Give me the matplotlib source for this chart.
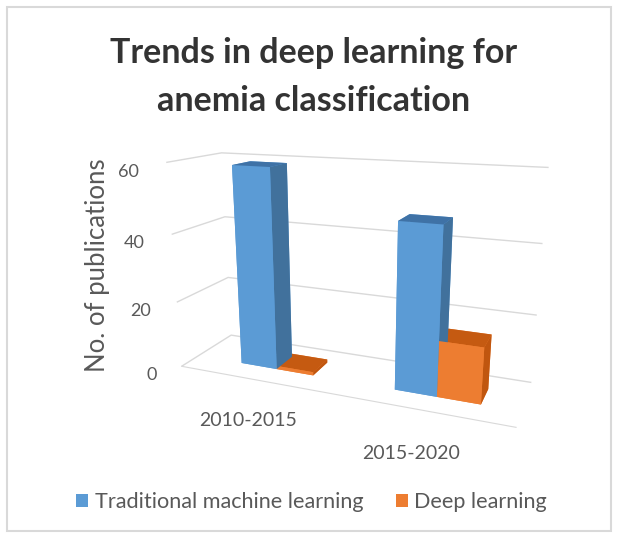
import numpy as np
import matplotlib.pyplot as plt
from matplotlib.patches import Rectangle, Patch

categories = ["2010-2015", "2015-2020"]
series = ["Traditional machine learning", "Deep learning"]
traditional = [59, 47]
deep = [1, 16]
zticks = [0, 20, 40, 60]

blue_faces = ["#5B9BD5", "#3F72A6", "#5B9BD5", "#5B9BD5", "#5B9BD5", "#41719C"]
orange_faces = ["#ED7D31", "#C55A11", "#ED7D31", "#ED7D31", "#ED7D31", "#C0560F"]
text_col = "#595959"
grid_col = "#D9D9D9"

plt.rcParams['font.family'] = ['Lato', 'DejaVu Sans']

fig = plt.figure(figsize=(6.18, 5.38), dpi=100)
ax = fig.add_axes([0.105, 0.095, 0.91, 0.77], projection='3d')

# bars: blue on the left of each category, orange next to it
w = 0.245
xs, ys, zs, dxs, dys, dzs, cols = [], [], [], [], [], [], []
for i in range(len(categories)):
    c = i + 0.5
    for off, vals, faces in [(-w, traditional, blue_faces), (0, deep, orange_faces)]:
        xs.append(c + off); ys.append(0.32); zs.append(0)
        dxs.append(w); dys.append(0.36); dzs.append(vals[i])
        cols += faces
ax.bar3d(xs, ys, zs, dxs, dys, dzs, color=cols, shade=False)

ax.set_xlim(-0.06, 1.96)
ax.set_ylim(0, 1)
ax.set_zlim(0, 60)
ax.set_zticks(zticks)
ax.set_xticks([])
ax.set_yticks([])
ax.set_zticklabels([])

ax.set_proj_type('persp', focal_length=0.3)
ax.view_init(elev=16, azim=-68)
ax.set_box_aspect((4.8, 1.35, 2.95), zoom=1.0)

for a in (ax.xaxis, ax.yaxis, ax.zaxis):
    a.set_pane_color((1, 1, 1, 0))
    a.pane.set_edgecolor("none")
    a._axinfo['tick']['inward_factor'] = 0
    a._axinfo['tick']['outward_factor'] = 0
    a._axinfo['grid']['color'] = (1, 1, 1, 0)
    a.label.set_visible(False)
    a.offsetText.set_visible(False)
ax.zaxis._axinfo['grid']['color'] = grid_col
ax.zaxis._axinfo['grid']['linewidth'] = 1.0
ax.xaxis.line.set_color(grid_col)
ax.yaxis.line.set_color((1, 1, 1, 0))
ax.zaxis.line.set_color((1, 1, 1, 0))

for t in zticks:
    ax.text(-0.2, -0.12, t - 2.5, str(t), ha='right', va='center', fontsize=13, color=text_col)
for i, cat in enumerate(categories):
    ax.text(i + 0.43, -0.1, -9, cat, ha='center', va='top', fontsize=14, color=text_col)

fig.text(0.157, 0.507, "No. of publications", rotation=90, ha='center', va='center',
         fontsize=18.5, color=text_col)
fig.text(0.507, 0.857, "Trends in deep learning for\nanemia classification", ha='center',
         va='center', fontsize=24.5, fontweight='bold', color="#333333", linespacing=1.6)

handles = [Patch(facecolor=blue_faces[0]), Patch(facecolor=orange_faces[0])]
fig.legend(handles, series, loc='center', bbox_to_anchor=(0.504, 0.066), ncol=2, frameon=False,
           fontsize=15.6, handlelength=0.55, handleheight=0.55, handletextpad=0.3,
           columnspacing=1.5, labelcolor=text_col)

fig.patches.append(Rectangle((7 / 618, 7 / 538), 604 / 618, 524 / 538, transform=fig.transFigure,
                             fill=False, edgecolor="#D9D9D9", lw=1.5))

fig.savefig("out.png", dpi=100)
